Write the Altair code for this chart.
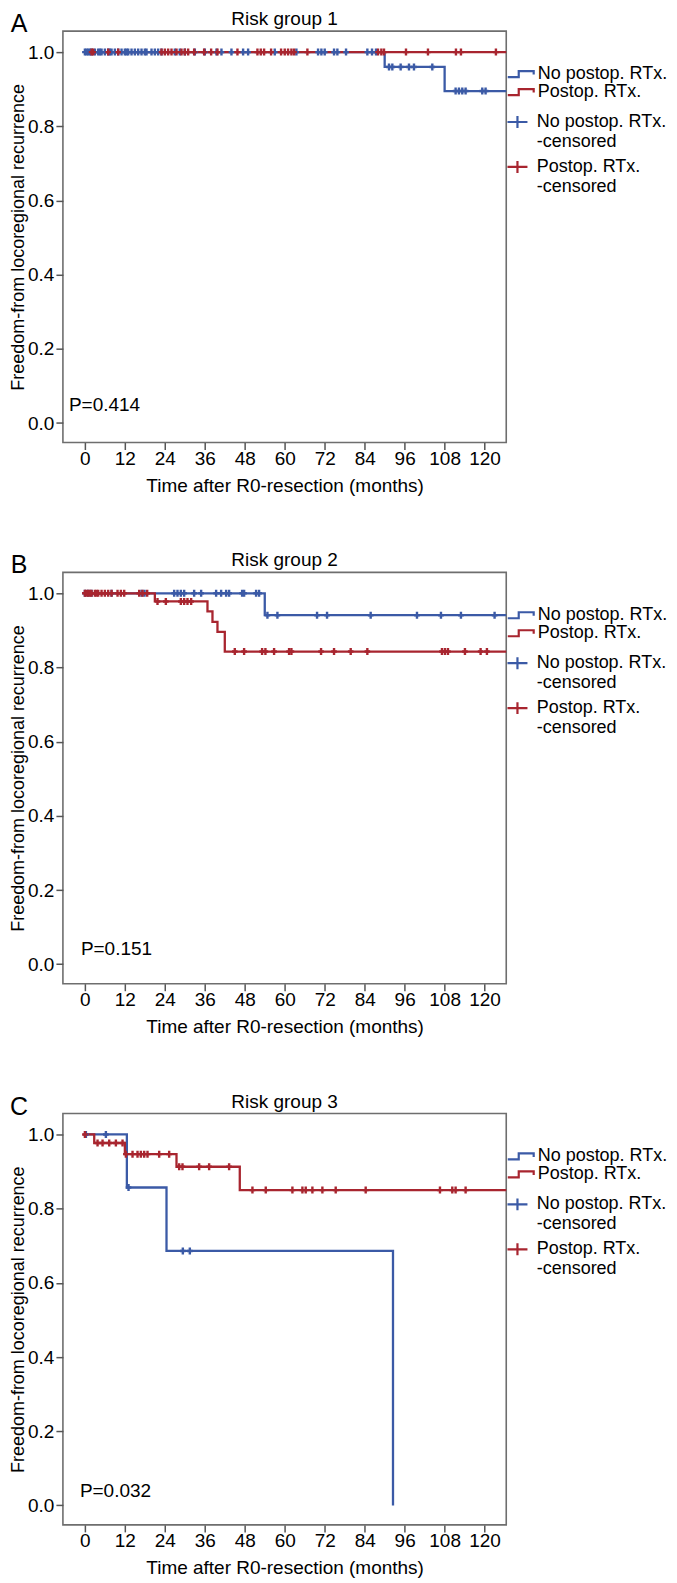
import altair as alt
import pandas as pd

FONT = "Liberation Sans"
BLUE = "#3b5aa6"
RED = "#a8252f"
FRAME = "#6e6e6e"

LINE_CATS = ["No postop. RTx.", "Postop. RTx."]
CENS_CATS = ["No postop. RTx.|-censored", "Postop. RTx.|-censored"]
# legend glyphs (SVG paths in symbol units)
STEP_LEGEND = "M-1.14,0.43L0.43,0.43L0.43,-0.43L2.57,-0.43L2.57,0.07"
CROSS_LEGEND = "M-1.06,0L0.48,0M-0.29,-0.46L-0.29,0.46"
CROSS_MARK = "M-0.8,0L0.8,0M0,-1L0,1"

X_TICKS = list(range(0, 121, 12))
Y_TICKS = [0.0, 0.2, 0.4, 0.6, 0.8, 1.0]
X_DOM = [-6.6, 126.5]
Y_DOM = [-0.0525, 1.0565]

# ---------- Risk group 1 ----------
A_NO_T = [0, 90, 108, 130]
A_NO_S = [1.0, 0.96, 0.895, 0.895]
A_NO_CENS = [0, 0.5, 1, 1.5, 2, 3, 4, 4.5, 5, 6, 7, 7.5, 8, 9, 10, 11, 12, 12.5, 13, 14,
             15, 16, 17, 18, 18.5, 20, 21, 22, 23, 27, 28.5, 30, 33, 36, 39.5, 41, 44,
             47.5, 49, 57, 63.5, 70, 71, 72, 74.8, 75.8, 78.4, 84.8, 86.2, 87.4,
             91.3, 92.3, 94.8, 97.3, 98.8, 104.3,
             111.3, 112.3, 113.3, 114.3, 119.3, 120.3]
A_PO_T = [0, 130]
A_PO_S = [1.0, 1.0]
A_PO_CENS = [2, 2.5, 7, 10, 23, 24, 25, 26, 27.5, 29, 30, 31, 32.8, 35.8, 37.9, 39.8,
             45.8, 51.8, 52.8, 53.8, 55.9, 58.9, 60, 61, 62, 62.8, 66.8, 88, 89, 89.8,
             96.4, 103, 111.4, 112.9, 123.4]

# ---------- Risk group 2 ----------
B_NO_T = [0, 54, 130]
B_NO_S = [1.0, 0.941, 0.941]
B_NO_CENS = [0, 1, 2, 8, 17, 17.9, 26.8, 27.8, 28.8, 29.8, 32.8, 34.9, 39.4, 40.9, 42.4,
             43.3, 47.2, 47.8, 51.4, 52.3, 54.8, 57.8, 69.7, 72.7, 85.8, 99.7, 106.9,
             112.9, 123]
B_PO_T = [0, 21, 36.8, 38.3, 39.8, 42, 130]
B_PO_S = [1.0, 0.978, 0.951, 0.923, 0.896, 0.843, 0.843]
B_PO_CENS = [0, 0.5, 1, 1.5, 2, 3, 3.5, 4, 5, 6, 7, 8, 9.8, 10.8, 11.8, 16.3, 17.3, 18.7,
             21.8, 24.3, 28.8, 29.8, 30.8, 31.9, 45, 47.8, 53.2, 54.2, 56.8, 61.3, 62,
             70.9, 74.8, 79.8, 84.8, 107.2, 108.1, 109, 114.1, 118.8, 120.7]

# ---------- Risk group 3 ----------
C_NO_T = [0, 12.6, 24.5, 92.5]
C_NO_S = [1.0, 0.857, 0.686, 0.0]
C_NO_CENS = [0.3, 6.3, 13.1, 29.4, 31.5]
C_PO_T = [0, 2.8, 12, 27.5, 46.5, 130]
C_PO_S = [1.0, 0.977, 0.947, 0.913, 0.85, 0.85]
C_PO_CENS = [0, 3.8, 5.3, 7.3, 9.3, 11.3, 12.3, 14.3, 15.8, 16.8, 17.8, 18.8, 22.3, 25.3,
             28.3, 29.3, 34.3, 37.3, 43.3, 50.3, 54.3, 62.3, 65.3, 66.3, 68.3, 71.3,
             75.3, 84.3, 106.6, 110.3, 111.3, 114.3]

W = 444
H = 412


def surv_at(times, survs, t):
    v = survs[0]
    for ti, si in zip(times, survs):
        if ti <= t:
            v = si
    return v


def panel(letter, title, pval, p_dx, p_dy, no_t, no_s, no_c, po_t, po_s, po_c):
    line_rows = []
    for cat, ts, ss in [(LINE_CATS[0], no_t, no_s), (LINE_CATS[1], po_t, po_s)]:
        for t, s in zip(ts, ss):
            line_rows.append({"grp": cat, "t": t, "s": s})
    cens_rows = []
    for cat, ts, ss, cs in [(CENS_CATS[0], no_t, no_s, no_c), (CENS_CATS[1], po_t, po_s, po_c)]:
        for c in cs:
            cens_rows.append({"cgrp": cat, "t": c, "s": surv_at(ts, ss, c)})
    line_df = pd.DataFrame(line_rows)
    cens_df = pd.DataFrame(cens_rows)

    x_enc = alt.X("t:Q", scale=alt.Scale(domain=X_DOM, nice=False, zero=False),
                  axis=alt.Axis(values=X_TICKS, title="Time after R0-resection (months)",
                                domain=False, grid=False, tickSize=7, tickWidth=1.5,
                                tickColor="#555", labelPadding=0, titlePadding=8,
                                labelFlush=False, labelOverlap=False,
                                labelFontSize=19, titleFontSize=19))
    y_enc = alt.Y("s:Q", scale=alt.Scale(domain=Y_DOM, nice=False, zero=False),
                  axis=alt.Axis(values=Y_TICKS, format=".1f",
                                title="Freedom-from locoregional recurrence",
                                domain=False, grid=False, tickSize=7, tickWidth=1.5,
                                tickColor="#555", labelPadding=2, titlePadding=0,
                                labelFontSize=19, titleFontSize=18))

    lines = alt.Chart(line_df).mark_line(interpolate="step-after", strokeWidth=2.3,
                                         clip=True).encode(
        x=x_enc, y=y_enc,
        color=alt.Color("grp:N", scale=alt.Scale(domain=LINE_CATS, range=[BLUE, RED]),
                        legend=alt.Legend(title=None, orient="none", legendX=W + 0.5,
                                          legendY=34, symbolType=STEP_LEGEND,
                                          symbolSize=196, symbolStrokeWidth=2.2,
                                          labelOffset=13, rowPadding=0, padding=0,
                                          labelLimit=0)),
    )
    points = alt.Chart(cens_df).mark_point(shape=CROSS_MARK, size=49, strokeWidth=2.4,
                                           filled=False, opacity=1).encode(
        x=x_enc, y=y_enc,
        stroke=alt.Stroke("cgrp:N", scale=alt.Scale(domain=CENS_CATS, range=[BLUE, RED]),
                          legend=alt.Legend(title=None, orient="none", legendX=W + 0.5,
                                            legendY=76.5, symbolType=CROSS_LEGEND,
                                            symbolSize=676, symbolStrokeWidth=2.2,
                                            labelOffset=1, rowPadding=1, padding=0,
                                            labelLimit=0,
                                            labelExpr="split(datum.label, '|')")),
    )
    txt = pd.DataFrame({"letter": [letter], "title": [title], "p": [pval]})
    letter_mark = alt.Chart(txt).mark_text(fontSize=25, font=FONT, align="center",
                                           baseline="alphabetic", color="black").encode(
        text="letter:N", x=alt.value(-44), y=alt.value(1))
    title_mark = alt.Chart(txt).mark_text(fontSize=19, font=FONT, align="center",
                                          baseline="alphabetic", color="black").encode(
        text="title:N", x=alt.value(W / 2), y=alt.value(-6))
    p_mark = alt.Chart(txt).mark_text(fontSize=19, font=FONT, align="left",
                                      baseline="middle", color="black").encode(
        text="p:N", x=alt.value(p_dx), y=alt.value(H - p_dy))

    return alt.layer(lines, points, letter_mark, title_mark, p_mark).properties(
        width=W, height=H)


pA = panel("A", "Risk group 1", "P=0.414", 6, 38, A_NO_T, A_NO_S, A_NO_CENS, A_PO_T, A_PO_S, A_PO_CENS)
pB = panel("B", "Risk group 2", "P=0.151", 18, 35, B_NO_T, B_NO_S, B_NO_CENS, B_PO_T, B_PO_S, B_PO_CENS)
pC = panel("C", "Risk group 3", "P=0.032", 17, 34, C_NO_T, C_NO_S, C_NO_CENS, C_PO_T, C_PO_S, C_PO_CENS)

chart = alt.vconcat(pA, pB, pC, spacing=54).resolve_scale(
    color="independent", stroke="independent"
).resolve_legend(color="independent", stroke="independent").properties(
    padding=0
).configure_view(stroke=FRAME, strokeWidth=1.6).configure_axis(
    labelFont=FONT, titleFont=FONT, titleFontWeight="normal",
    labelColor="black", titleColor="black"
).configure_legend(labelFont=FONT, labelFontSize=18, labelColor="black")

chart.save("out.html", embed_options={"renderer": "svg", "actions": False})
